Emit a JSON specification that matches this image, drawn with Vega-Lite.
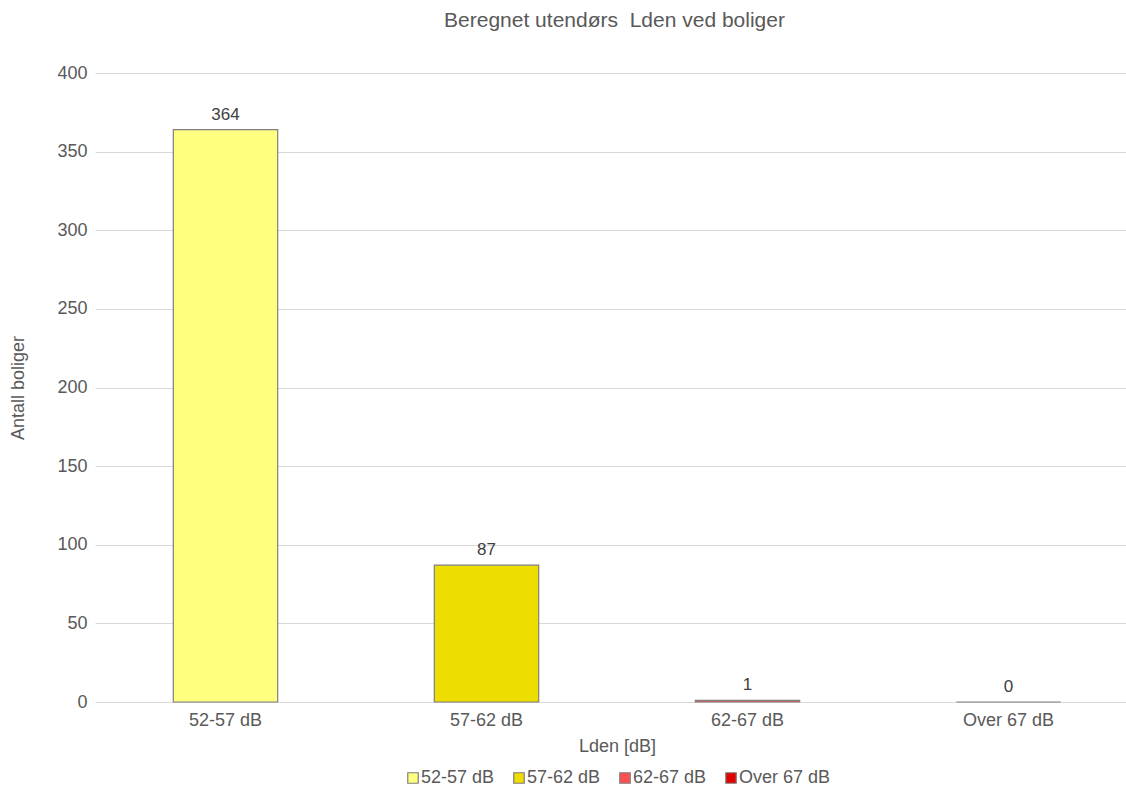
{
  "$schema": "https://vega.github.io/schema/vega-lite/v6.json",
  "autosize": {"type": "none"},
  "padding": {"left": 95, "top": 73, "right": 0, "bottom": 85},
  "width": 1031,
  "height": 629,
  "background": "white",
  "title": {
    "text": "Beregnet utendørs \u00a0Lden ved boliger",
    "font": "Liberation Sans",
    "fontSize": 21,
    "fontWeight": "normal",
    "color": "#595959",
    "anchor": "middle",
    "dx": 4,
    "offset": 33
  },
  "config": {
    "view": {"stroke": null},
    "font": "Liberation Sans",
    "axis": {
      "labelFont": "Liberation Sans",
      "titleFont": "Liberation Sans",
      "labelColor": "#595959",
      "titleColor": "#595959",
      "labelFontSize": 18,
      "titleFontSize": 18,
      "titleFontWeight": "normal"
    }
  },
  "data": {
    "values": [
      {"kategori": "52-57 dB", "antall": 364},
      {"kategori": "57-62 dB", "antall": 87},
      {"kategori": "62-67 dB", "antall": 1},
      {"kategori": "Over 67 dB", "antall": 0}
    ]
  },
  "encoding": {
    "x": {
      "field": "kategori",
      "type": "nominal",
      "sort": null,
      "title": "Lden [dB]",
      "scale": {"range": [0, 1044], "paddingInner": 0.6, "paddingOuter": 0.3},
      "axis": {
        "labelAngle": 0,
        "domain": false,
        "ticks": false,
        "labelPadding": 9,
        "titlePadding": 8
      }
    },
    "y": {
      "field": "antall",
      "type": "quantitative",
      "title": "Antall boliger",
      "scale": {"domain": [0, 400]},
      "axis": {
        "values": [0, 50, 100, 150, 200, 250, 300, 350, 400],
        "domain": false,
        "ticks": false,
        "labelPadding": 8,
        "titlePadding": 29,
        "gridColor": "#d9d9d9",
        "gridWidth": 1
      }
    }
  },
  "layer": [
    {
      "mark": {"type": "bar", "stroke": "#7f7f7f", "strokeWidth": 1.2, "clip": false},
      "encoding": {
        "fill": {
          "field": "kategori",
          "type": "nominal",
          "sort": null,
          "scale": {
            "domain": ["52-57 dB", "57-62 dB", "62-67 dB", "Over 67 dB"],
            "range": ["#FFFF80", "#EEDD00", "#FF5050", "#E00000"]
          },
          "legend": {
            "title": null,
            "orient": "none",
            "direction": "horizontal",
            "legendX": 309,
            "legendY": 696,
            "symbolType": "square",
            "symbolSize": 110,
            "symbolStrokeColor": "#7f7f7f",
            "symbolStrokeWidth": 1.2,
            "labelFont": "Liberation Sans",
            "labelFontSize": 18,
            "labelColor": "#595959",
            "labelOffset": -1,
            "columnPadding": 15
          }
        }
      }
    },
    {
      "mark": {"type": "text", "dy": -15, "fontSize": 17, "color": "#404040", "font": "Liberation Sans"},
      "encoding": {
        "text": {"field": "antall", "type": "quantitative"}
      }
    }
  ]
}
